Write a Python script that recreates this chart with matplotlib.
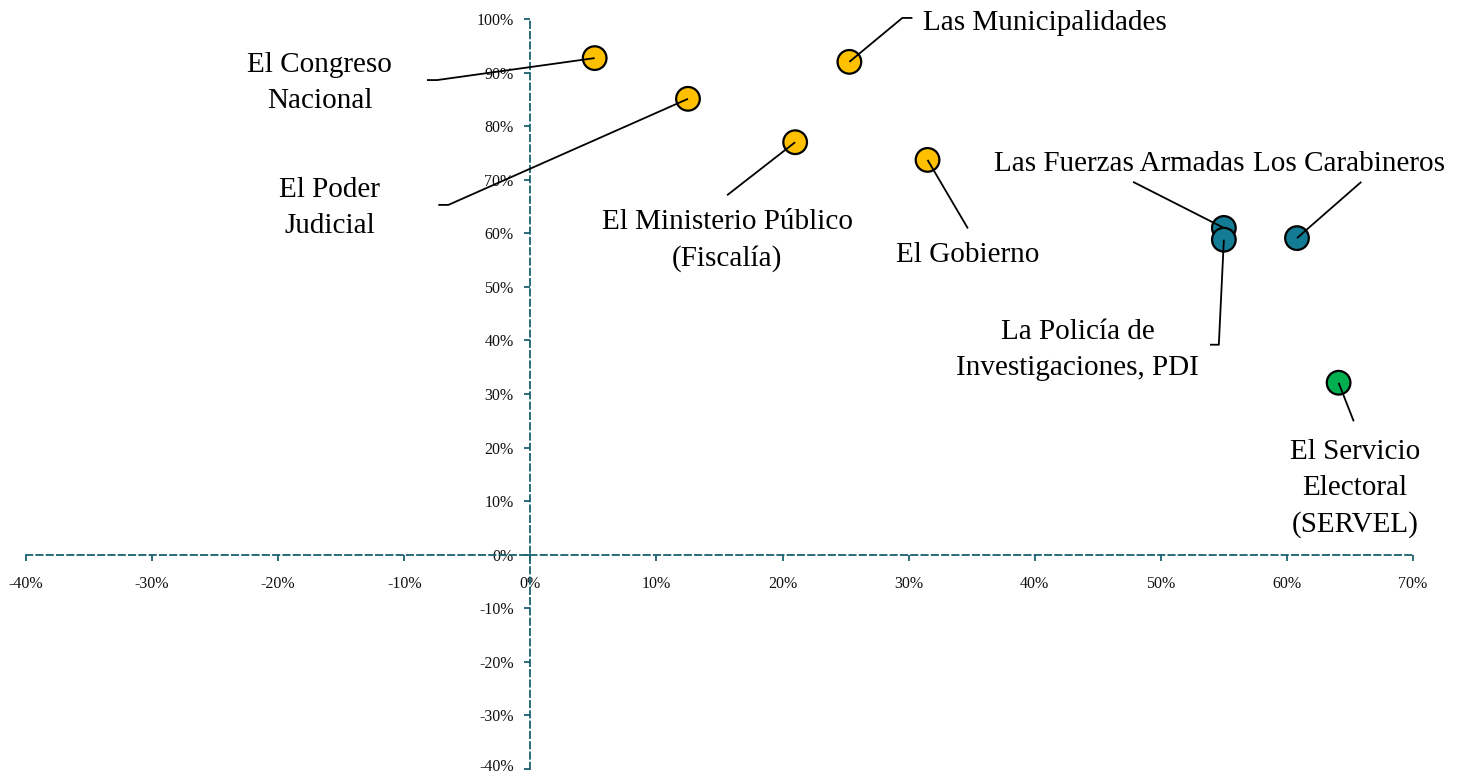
import matplotlib
matplotlib.use("Agg")
import matplotlib.pyplot as plt
import matplotlib.transforms as mtransforms
from matplotlib.ticker import FuncFormatter, MultipleLocator

# ---- data ----
institutions = [
    "El Congreso Nacional", "Las Municipalidades", "El Poder Judicial",
    "El Ministerio Público (Fiscalía)", "El Gobierno", "Las Fuerzas Armadas",
    "La Policía de Investigaciones, PDI", "Los Carabineros",
    "El Servicio Electoral (SERVEL)",
]
x_values = [5.1, 25.3, 12.5, 21.0, 31.5, 55.0, 55.0, 60.8, 64.1]
y_values = [92.7, 92.0, 85.1, 77.0, 73.7, 61.0, 58.8, 59.1, 32.1]
groups = ["a", "a", "a", "a", "a", "b", "b", "b", "c"]

label_texts = [
    "El Congreso\nNacional", "Las Municipalidades", "El Poder\nJudicial",
    "El Ministerio Público\n(Fiscalía)", "El Gobierno", "Las Fuerzas Armadas",
    "La Policía de\nInvestigaciones, PDI", "Los Carabineros",
    "El Servicio\nElectoral\n(SERVEL)",
]

# ---- layout / style (positions of labels and connector anchors, data units) ----
group_colors = {"a": "#FFC000", "b": "#137C94", "c": "#00B050"}
label_pos = [(-16.7, 88.0), (31.1, 99.3), (-15.9, 64.7), (15.6, 58.7), (34.7, 56.0),
             (46.7, 73.0), (43.4, 38.3), (64.9, 73.0), (65.4, 12.4)]
label_ha = ["center", "left", "center", "center", "center",
            "center", "center", "center", "center"]
conn_start = [[(-8.2, 88.6), (-7.4, 88.6)],
              [(30.3, 100.2), (29.5, 100.2)],
              [(-7.3, 65.3), (-6.5, 65.3)],
              [(15.6, 67.1)],
              [(34.7, 60.9)],
              [(47.8, 69.6)],
              [(53.9, 39.2), (54.6, 39.2)],
              [(65.9, 69.6)],
              [(65.3, 24.9)]]

serif = ["Liberation Serif", "DejaVu Serif"]
axis_color = "#1A6070"

fig = plt.figure(figsize=(14.62, 7.75), dpi=100)
ax = fig.add_axes([26 / 1462, 1 - 769 / 775, (1413 - 26) / 1462, (769 - 19) / 775])
ax.set_xlim(-40, 70)
ax.set_ylim(-40, 100)

for s in ["top", "right"]:
    ax.spines[s].set_visible(False)
for s in ["left", "bottom"]:
    ax.spines[s].set_position(("data", 0))
    ax.spines[s].set_color(axis_color)
    ax.spines[s].set_linewidth(1.3)
    ax.spines[s].set_linestyle((0, (3.5, 2.2)))

ax.xaxis.set_major_locator(MultipleLocator(10))
ax.yaxis.set_major_locator(MultipleLocator(10))
fmt = FuncFormatter(lambda v, p: f"{v:.0f}%")
ax.xaxis.set_major_formatter(fmt)
ax.yaxis.set_major_formatter(fmt)
ax.tick_params(axis="both", direction="out", length=4, width=1.3, color=axis_color,
               labelsize=11.5, labelcolor="#111111")
ax.tick_params(axis="x", pad=11)
ax.tick_params(axis="y", pad=8)
for lab in ax.get_xticklabels() + ax.get_yticklabels():
    lab.set_family(serif)

# nudge the lowest y tick label up a few pixels so it is not clipped by the figure edge
fig.canvas.draw()
for tick in ax.yaxis.get_major_ticks():
    if abs(tick.get_loc() - (-40)) < 1e-6:
        lab = tick.label1
        lab.set_transform(lab.get_transform() +
                          mtransforms.ScaledTranslation(0, 3 / 72, fig.dpi_scale_trans))

colors = [group_colors[g] for g in groups]
ax.scatter(x_values, y_values, s=290, c=colors, edgecolors="black", linewidths=1.6,
           zorder=3, clip_on=False)

for i in range(len(institutions)):
    pts = conn_start[i] + [(x_values[i], y_values[i])]
    ax.plot([p[0] for p in pts], [p[1] for p in pts], color="black", lw=1.3,
            zorder=4, clip_on=False, solid_capstyle="butt")
    ax.text(label_pos[i][0], label_pos[i][1], label_texts[i], ha=label_ha[i],
            va="center", ma="center", fontsize=21, family=serif, color="black",
            linespacing=1.5, zorder=5)

fig.savefig("out.png", dpi=100)
